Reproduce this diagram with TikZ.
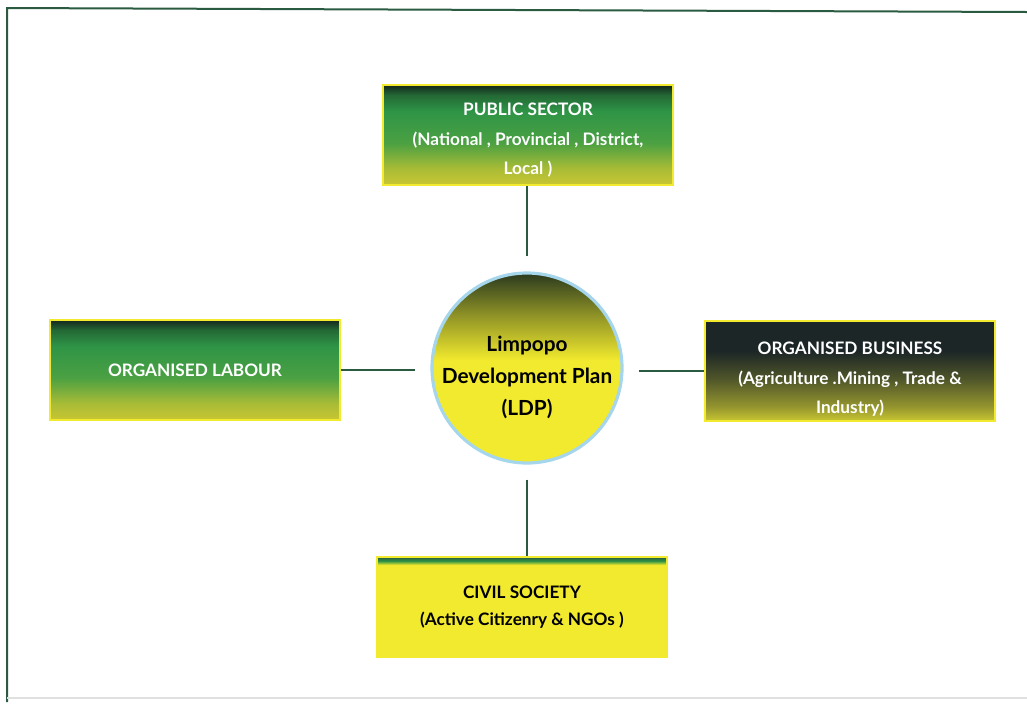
\documentclass[tikz,border=0pt]{standalone}
\usepackage{fontspec}
\setmainfont{Lato}
\usepackage{xcolor}
\definecolor{ldpdark}{HTML}{14261C}
\definecolor{ldpgreen}{HTML}{2E9446}
\definecolor{ldpyellow}{HTML}{F2EA2E}
\definecolor{ldpolive}{HTML}{C9C632}
\definecolor{ldpslate}{HTML}{1C2626}
\definecolor{ldpline}{HTML}{2A5A40}
\definecolor{ldpblue}{HTML}{A6D6EC}
\usetikzlibrary{positioning,shapes.geometric,calc}
\newcommand{\sinktext}[1]{\rule{0pt}{#1}}
% shadings: stops between 25bp (bottom of node) and 75bp (top of node)
\pgfdeclareverticalshading{greenbox}{100bp}{color(0bp)=(ldpolive); color(25bp)=(ldpolive); color(33bp)=(ldpolive!80!ldpgreen); color(46bp)=(ldpgreen!85!ldpyellow); color(62bp)=(ldpgreen); color(70bp)=(ldpgreen!60!ldpdark); color(75bp)=(ldpdark); color(100bp)=(ldpdark)}
\pgfdeclareverticalshading{darkbox}{100bp}{color(0bp)=(ldpolive); color(25bp)=(ldpolive); color(32bp)=(ldpolive!70!ldpslate); color(46bp)=(ldpslate!70!ldpolive); color(60bp)=(ldpslate); color(75bp)=(ldpslate); color(100bp)=(ldpslate)}
\pgfdeclareverticalshading{yellowbox}{100bp}{color(0bp)=(ldpyellow); color(25bp)=(ldpyellow); color(71bp)=(ldpyellow); color(73bp)=(ldpgreen); color(75bp)=(ldpline); color(100bp)=(ldpline)}
\pgfdeclareverticalshading{ldpball}{100bp}{color(0bp)=(ldpyellow); color(25bp)=(ldpyellow); color(52bp)=(ldpyellow); color(64bp)=(ldpyellow!55!ldpdark); color(75bp)=(ldpdark!90!ldpyellow); color(100bp)=(ldpdark)}

\begin{document}
\begin{tikzpicture}[x=0.5pt,y=-0.5pt]
\tikzset{
 box/.style={draw=ldpyellow,line width=1.2pt,minimum width=145pt,minimum height=50pt,align=center,inner sep=2pt,font=\fontsize{8.6}{14.6}\selectfont\bfseries},
 gbox/.style={box,shading=greenbox,text=white},
 dbox/.style={box,shading=darkbox,text=white},
 ybox/.style={box,shading=yellowbox,text=black,font=\fontsize{8.6}{13.6}\selectfont\bfseries},
 hub/.style={circle,draw=ldpblue,line width=1.6pt,shading=ldpball,minimum size=95pt,inner sep=0pt},
 hubtext/.style={align=center,yshift=-4.5pt,font=\fontsize{10.4}{16}\selectfont\bfseries},
 c/.style={draw=ldpline,line width=1pt,shorten <=7.5pt}
}
\useasboundingbox (0,0) rectangle (1027,703);
% frame of the page
\draw[ldpline,line width=1pt] (7,702) -- (7,8) -- (1027,12);
\draw[black!12,line width=0.6pt] (7,698) -- (1027,698);
\node[hub,label={[hubtext]center:Limpopo\\Development Plan\\(LDP)}] (ldp) at (527,368) {};
\node[gbox] (pub) at (528,135) {\sinktext{11.5pt}PUBLIC SECTOR\\(National , Provincial , District,\\Local )};
\node[gbox] (lab) at (195,370) {ORGANISED LABOUR};
\node[dbox] (bus) at (850,371) {\sinktext{14.5pt}ORGANISED BUSINESS\\(Agriculture .Mining , Trade \&\\Industry)};
\node[ybox] (civ) at (522,607) {CIVIL SOCIETY\\(Active Citizenry \& NGOs )};
\draw[c] (ldp.north) -- (pub.south -| ldp.north);
\foreach \i/\j in {ldp.west/lab.east,ldp.east/bus.west}{\draw[c] (\i |- \j)--(\j);}
\draw[c] (ldp.south) -- (civ.north -| ldp.south);
\end{tikzpicture}
\end{document}
